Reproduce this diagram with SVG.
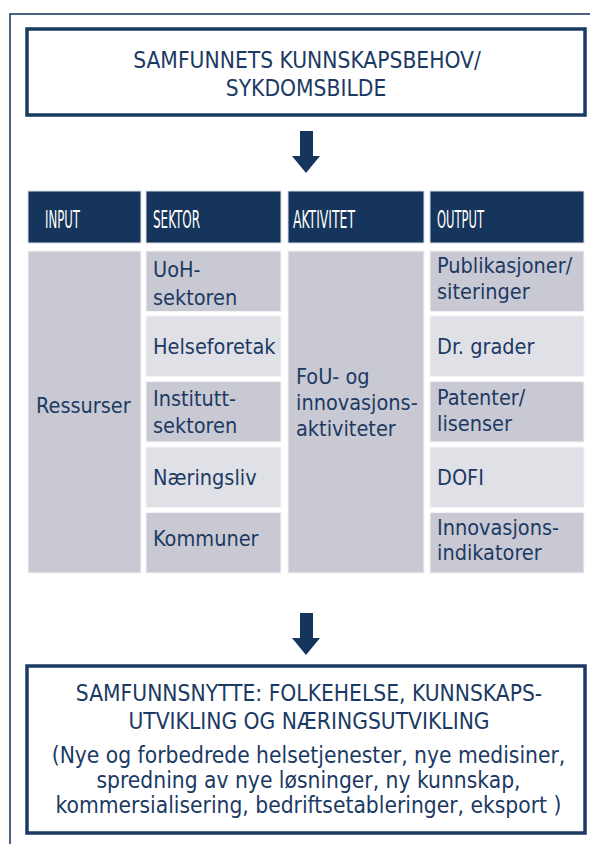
<svg xmlns="http://www.w3.org/2000/svg" width="590" height="844" viewBox="0 0 590 844">
<defs>
<style>
.t{font-family:"DejaVu Sans Condensed","DejaVu Sans",Verdana,sans-serif;font-stretch:condensed;font-size:21.5px;fill:#1b3a63}
.b{font-size:22.6px}
.h{font-family:"DejaVu Sans Condensed","DejaVu Sans",sans-serif;font-stretch:condensed;font-size:24px;fill:#ffffff}
.hd{fill:#16355c;stroke:#d8dce6;stroke-width:1}
.dk{fill:#c9c9d4;stroke:#f4f4f7;stroke-width:1}
.lt{fill:#e0e0e7;stroke:#f4f4f7;stroke-width:1}
.box{fill:#ffffff;stroke:#1b3a63;stroke-width:3.5}
.arr{fill:#16355c}
</style>
</defs>
<rect width="590" height="844" fill="#ffffff"/>
<rect x="10" y="14" width="600" height="860" fill="none" stroke="#1f3d66" stroke-width="1.6"/>

<g id="top-box">
<rect class="box" x="27" y="29" width="558" height="86"/>
<text class="t b" text-anchor="middle" x="307" y="68">SAMFUNNETS KUNNSKAPSBEHOV/</text>
<text class="t b" text-anchor="middle" x="306" y="95.5">SYKDOMSBILDE</text>
</g>

<g id="connectors">
<polygon class="arr" points="300,131 313,131 313,156 320,156 306,173 292,156 300,156"/>
<polygon class="arr" points="300,613 313,613 313,638 320,638 306,655 292,638 300,638"/>
</g>

<g id="header-input"><rect class="hd" x="28" y="191" width="113" height="52"/><text class="h" x="45" y="228" textLength="35" lengthAdjust="spacingAndGlyphs">INPUT</text></g>
<g id="header-sektor"><rect class="hd" x="146" y="191" width="135" height="52"/><text class="h" x="153" y="228" textLength="47" lengthAdjust="spacingAndGlyphs">SEKTOR</text></g>
<g id="header-aktivitet"><rect class="hd" x="288" y="191" width="136" height="52"/><text class="h" x="293" y="228" textLength="62" lengthAdjust="spacingAndGlyphs">AKTIVITET</text></g>
<g id="header-output"><rect class="hd" x="430" y="191" width="154" height="52"/><text class="h" x="437" y="228" textLength="47" lengthAdjust="spacingAndGlyphs">OUTPUT</text></g>

<g id="ressurser"><rect class="dk" x="28" y="251" width="113" height="322"/><text class="t" x="36" y="413">Ressurser</text></g>

<g id="uoh"><rect class="dk" x="146" y="251" width="135" height="60.5"/><text class="t" x="153" y="277">UoH-</text><text class="t" x="153" y="304.5">sektoren</text></g>
<g id="helseforetak"><rect class="lt" x="146" y="316" width="135" height="60.5"/><text class="t" x="153" y="353.5">Helseforetak</text></g>
<g id="institutt"><rect class="dk" x="146" y="381.5" width="135" height="60.5"/><text class="t" x="153" y="405.5">Institutt-</text><text class="t" x="153" y="433">sektoren</text></g>
<g id="naeringsliv"><rect class="lt" x="146" y="447" width="135" height="60.5"/><text class="t" x="153" y="485">Næringsliv</text></g>
<g id="kommuner"><rect class="dk" x="146" y="512.5" width="135" height="60.5"/><text class="t" x="153" y="546">Kommuner</text></g>

<g id="fou"><rect class="dk" x="288" y="251" width="136" height="322"/><text class="t" x="296" y="384">FoU- og</text><text class="t" x="296" y="410">innovasjons-</text><text class="t" x="296" y="436">aktiviteter</text></g>

<g id="publikasjoner"><rect class="dk" x="430" y="251" width="154" height="60.5"/><text class="t" x="437" y="273">Publikasjoner/</text><text class="t" x="437" y="299">siteringer</text></g>
<g id="dr-grader"><rect class="lt" x="430" y="316" width="154" height="60.5"/><text class="t" x="437" y="353.5">Dr. grader</text></g>
<g id="patenter"><rect class="dk" x="430" y="381.5" width="154" height="60.5"/><text class="t" x="437" y="405">Patenter/</text><text class="t" x="437" y="431">lisenser</text></g>
<g id="dofi"><rect class="lt" x="430" y="447" width="154" height="60.5"/><text class="t" x="437" y="485">DOFI</text></g>
<g id="innovasjonsindikatorer"><rect class="dk" x="430" y="512.5" width="154" height="60.5"/><text class="t" x="437" y="535">Innovasjons-</text><text class="t" x="437" y="560">indikatorer</text></g>

<g id="bottom-box">
<rect class="box" x="27" y="666" width="558" height="167"/>
<text class="t b" text-anchor="middle" x="309" y="701">SAMFUNNSNYTTE: FOLKEHELSE, KUNNSKAPS-</text>
<text class="t b" text-anchor="middle" x="309" y="728.5">UTVIKLING OG NÆRINGSUTVIKLING</text>
<text class="t b" text-anchor="middle" x="308.5" y="763">(Nye og forbedrede helsetjenester, nye medisiner,</text>
<text class="t b" text-anchor="middle" x="308.5" y="788">spredning av nye løsninger, ny kunnskap,</text>
<text class="t b" text-anchor="middle" x="308.5" y="813">kommersialisering, bedriftsetableringer, eksport )</text>
</g>
</svg>
